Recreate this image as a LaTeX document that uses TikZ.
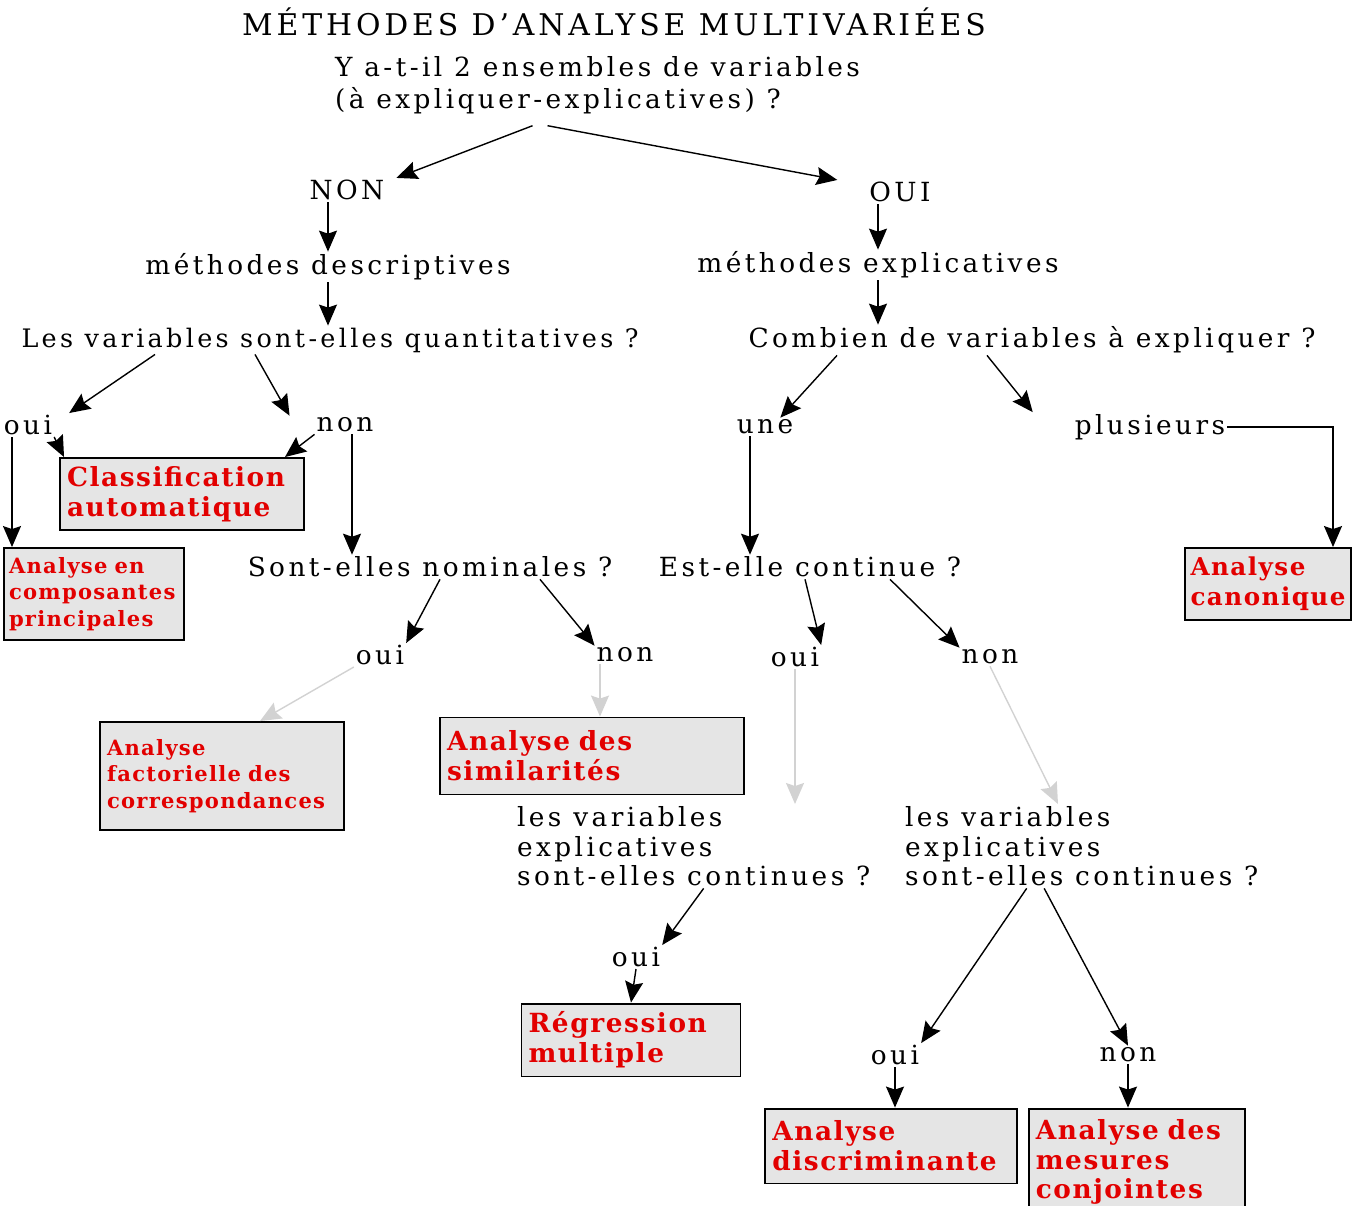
\documentclass[tikz,border=0pt]{standalone}
\usepackage{fontspec}
\setmainfont{DejaVu Serif}[LetterSpace=13, BoldFeatures={LetterSpace=6}]
\usepackage{xcolor}
\usetikzlibrary{arrows.meta, calc, positioning}

\definecolor{rougeboite}{RGB}{226,0,0}

\tikzset{
  texte/.style={font=\fontsize{15}{17}\selectfont, inner sep=1pt},
  question/.style={texte, align=left},
  methode/.style={draw, line width=1.1pt, fill=gray!20, text=rougeboite,
    font=\bfseries\fontsize{15}{17}\selectfont, align=left, inner sep=4pt},
  fleche/.style={->, thick},
  flechegrise/.style={->, thick, draw=gray!35, fill=gray!35},
}

\begin{document}
\begin{tikzpicture}[x=0.02cm, y=-0.02cm,
    >={Stealth[length=0.42cm, width=0.36cm, inset=0.06cm]}]

    % =================================================================
    % 1. CADRE DE L'IMAGE
    % =================================================================
    \useasboundingbox (0,0) rectangle (1354,1205);
    \clip (0,0) rectangle (1354,1205);

    % =================================================================
    % 2. TITRE ET PREMIERE QUESTION
    % =================================================================
    \node[font=\fontsize{17}{20}\selectfont] (titre) at (614,22) {MÉTHODES D'ANALYSE MULTIVARIÉES};
    \node[question, anchor=north west, font=\fontsize{15}{18.2}\selectfont] (q1) at (333,54)
        {Y a-t-il 2 ensembles de variables\\(à expliquer-explicatives) ?};

    \node[texte] (non) at (347,190) {NON};
    \node[texte] (oui) at (900,192) {OUI};
    \node[texte] (desc) at (328,267) {méthodes descriptives};
    \node[texte] (expl) at (878,265) {méthodes explicatives};

    % =================================================================
    % 3. METHODES DESCRIPTIVES (GAUCHE)
    % =================================================================
    \node[texte, font=\fontsize{14.5}{17}\selectfont] (q2) at (330,340) {Les variables sont-elles quantitatives ?};
    \node[texte] (ouiG) at (28,425) {oui};
    \node[texte] (nonG) at (345,425) {non};

    \node[methode, text width=4.6cm, minimum height=1.44cm] (classif) at (182,494)
        {Classification\\automatique};
    \node[methode, text width=3.4cm, inner sep=3pt, minimum height=1.84cm,
        font=\bfseries\fontsize{12}{15}\selectfont] (acp) at (94,594)
        {Analyse en\\composantes\\principales};

    \node[texte] (q4) at (430,567) {Sont-elles nominales ?};
    \node[texte] (ouiG2) at (380,655) {oui};
    \node[texte] (nonG2) at (625,655) {non};

    \node[methode, text width=4.6cm, minimum height=2.16cm,
        font=\bfseries\fontsize{12}{15}\selectfont] (afc) at (222,776)
        {Analyse\\factorielle des\\correspondances};
    \node[methode, text width=5.8cm, minimum height=1.54cm] (simil) at (592,756)
        {Analyse des\\similarités};

    % =================================================================
    % 4. METHODES EXPLICATIVES (DROITE)
    % =================================================================
    \node[texte] (q3) at (1032,340) {Combien de variables à expliquer ?};
    \node[texte] (une) at (765,427) {une};
    \node[texte] (plus) at (1150,427) {plusieurs};

    \node[methode, text width=3.1cm, inner sep=3pt, minimum height=1.44cm,
        font=\bfseries\fontsize{14}{17}\selectfont] (canon) at (1268,584)
        {Analyse\\canonique};

    \node[texte] (q5) at (810,567) {Est-elle continue ?};
    \node[texte] (ouiD) at (795,657) {oui};
    \node[texte] (nonD) at (990,657) {non};

    \node[question, anchor=north west] (q6a) at (515,804)
        {les variables\\explicatives\\sont-elles continues ?};
    \node[question, anchor=north west] (q6b) at (903,804)
        {les variables\\explicatives\\sont-elles continues ?};

    \node[texte] (ouiA) at (636,957) {oui};
    \node[methode, text width=4.1cm, minimum height=1.46cm] (reg) at (631,1040)
        {Régression\\multiple};

    \node[texte] (ouiB) at (895,1055) {oui};
    \node[texte] (nonB) at (1128,1055) {non};
    \node[methode, text width=4.75cm, minimum height=1.5cm] (ad) at (891,1146)
        {Analyse\\discriminante};
    \node[methode, text width=4.05cm, minimum height=2.14cm] (amc) at (1137,1162)
        {Analyse des\\mesures\\conjointes};

    % =================================================================
    % 5. FLECHES
    % =================================================================
    \draw[fleche] ([xshift=-1.3cm, yshift=-0.2cm]q1.south) -- ([xshift=0.2cm]non.north east);
    \draw[fleche] ([xshift=-1.0cm, yshift=-0.2cm]q1.south) -- ([xshift=-0.6cm]oui.north west);
    \draw[fleche] (non.south -| desc.north) -- (desc.north);
    \draw[fleche] (oui.south -| expl.north) -- (expl.north);
    \draw[fleche] (desc.south) -- (desc.south |- q2.north);
    \draw[fleche] (expl.south) -- (expl.south |- q3.north);

    % branche descriptive
    \draw[fleche] ([xshift=-3.5cm]q2.south) -- ([xshift=0.3cm]ouiG.north east);
    \draw[fleche] ([xshift=-1.5cm]q2.south) -- ([xshift=-0.5cm]nonG.north west);
    \draw[fleche] (ouiG.south east) -- ([xshift=0.1cm]classif.north west);
    \draw[fleche] (nonG.south west) -- ([xshift=-0.4cm]classif.north east);
    \draw[fleche] ($(ouiG.south)+(-16,0)$) -- ($(ouiG.south |- acp.north)+(-16,0)$);
    \draw[fleche] ($(nonG.south)+(7,0)$) -- ($(nonG.south |- q4.north)+(7,0)$);
    \draw[fleche] ([xshift=0.2cm]q4.south) -- (ouiG2.north east);
    \draw[fleche] ([xshift=2.2cm]q4.south) -- (nonG2.north west);
    \draw[flechegrise] (ouiG2.south west) -- ([xshift=-1.7cm]afc.north east);
    \draw[flechegrise] ($(nonG2.south)+(-25,0)$) -- ($(nonG2.south |- simil.north)+(-25,0)$);

    % branche explicative
    \draw[fleche] ([xshift=-3.9cm]q3.south) -- ([xshift=-0.3cm]une.north east);
    \draw[fleche] ([xshift=-0.9cm]q3.south) -- ([xshift=-0.8cm]plus.north west);
    \draw[fleche] (plus.east) -| ([xshift=1.3cm]canon.north);
    \draw[fleche] ($(une.south)+(-15,0)$) -- ($(une.south |- q5.north)+(-15,0)$);
    \draw[fleche] ([xshift=-0.1cm]q5.south) -- (ouiD.north east);
    \draw[fleche] ([xshift=1.6cm]q5.south) -- (nonD.north west);
    \draw[flechegrise] (ouiD.south) -- (ouiD.south |- q6a.north);
    \draw[flechegrise] (nonD.south) -- ([xshift=3.1cm]q6b.north west);
    \draw[fleche] ([xshift=0.2cm]q6a.south) -- (ouiA.north east);
    \draw[fleche] (ouiA.south) -- (reg.north);
    \draw[fleche] ([xshift=-1.1cm]q6b.south) -- (ouiB.north east);
    \draw[fleche] ([xshift=-0.75cm]q6b.south) -- (nonB.north);
    \draw[fleche] (ouiB.south) -- (ouiB.south |- ad.north);
    \draw[fleche] (nonB.south) -- (nonB.south |- amc.north);

\end{tikzpicture}
\end{document}
